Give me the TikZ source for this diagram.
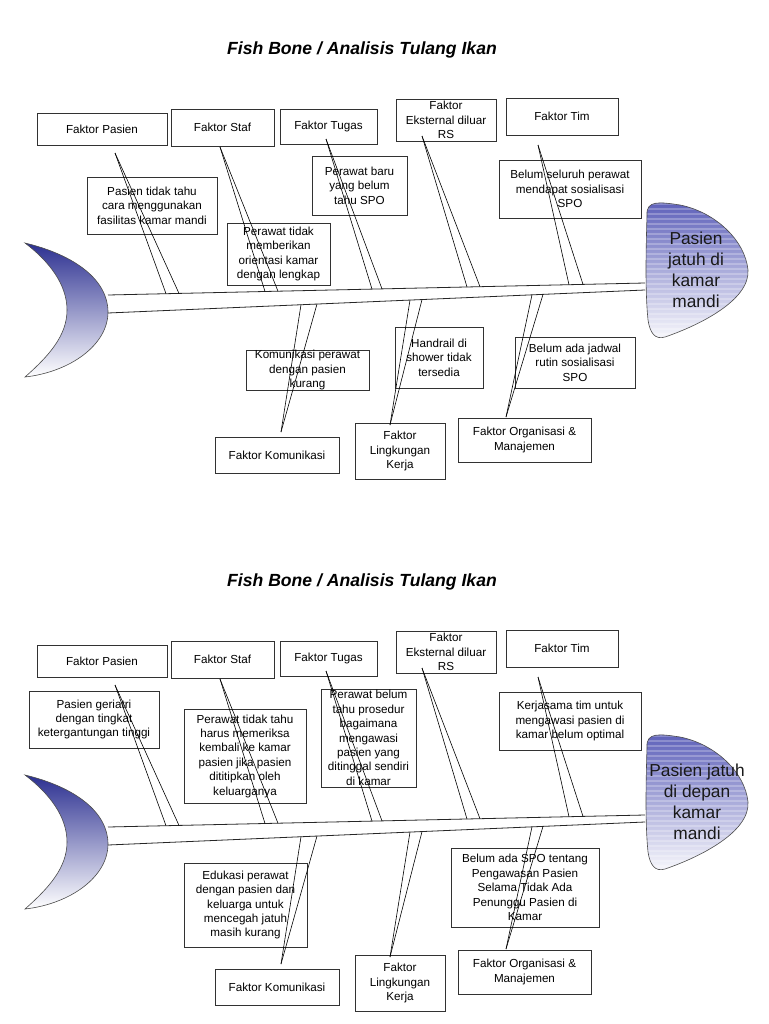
\documentclass[tikz,border=0pt]{standalone}
\usepackage{fontspec}
\setmainfont{Liberation Sans}
\definecolor{tailblue}{RGB}{44,48,145}
\definecolor{headblue}{RGB}{92,95,185}
\definecolor{boxline}{RGB}{50,50,50}
\tikzset{
  box/.style={draw=boxline,line width=0.75pt,fill=white,inner sep=0pt,align=center,
    font=\fontsize{8.75}{10.8}\selectfont},
  bone/.style={line width=0.45pt,black},
  spineline/.style={line width=0.6pt,black!85},
  outline/.style={draw=black!70,line width=0.45pt},
  headtxt/.style={font=\fontsize{13}{15.8}\selectfont,align=center,text=black!90},
  titletxt/.style={font=\fontsize{13.2}{16}\selectfont\bfseries\itshape}
}
\newcommand\bx[6]{%
  \pgfmathsetmacro\bxw{(#4-#2)*0.75}%
  \pgfmathsetmacro\bxh{(#5-#3)*0.75}%
  \node[box,minimum width=\bxw pt,minimum height=\bxh pt] (#1) at ({(#2+#4)/2},{(#3+#5)/2}) {#6};}
\newcommand\headpath{(647,215) .. controls (646,200) and (660,202) .. (680,205)
  .. controls (715,212) and (745,240) .. (748,270)
  .. controls (750,300) and (700,325) .. (665,337)
  .. controls (655,340) and (650,333) .. (648,320)
  .. controls (645,290) and (646,250) .. (647,215) -- cycle}
\newcommand\skel{%
  % tail
  \path[top color=tailblue,bottom color=white,outline]
    (25,243) .. controls (75,255) and (108,280) .. (108,312)
    .. controls (108,345) and (70,372) .. (25,377)
    .. controls (50,355) and (67,335) .. (67,310)
    .. controls (67,285) and (50,262) .. (25,243) -- cycle;
  % head
  \path[top color=headblue,bottom color=white!96!headblue] \headpath;
  \begin{scope}
    \clip \headpath;
    \foreach \yy in {204,209,...,340} \draw[white,opacity=0.25,line width=0.9pt] (640,\yy) -- (755,\yy);
  \end{scope}
  \path[outline] \headpath;
  % spine
  \coordinate (spTL) at (108,295);
  \coordinate (spTR) at (645,283);
  \coordinate (spBL) at (108,313);
  \coordinate (spBR) at (645,290);
  \draw[spineline] (spTL) -- (spTR);
  \draw[spineline] (spBL) -- (spBR);
  % category boxes
  \bx{fpas}{37}{113}{167}{145}{Faktor Pasien}
  \bx{fstaf}{171}{109}{274}{146}{Faktor Staf}
  \bx{ftug}{280}{109}{377}{144}{Faktor Tugas}
  \bx{feks}{396}{99}{496}{141}{Faktor\\Eksternal diluar\\RS}
  \bx{ftim}{506}{98}{618}{135}{Faktor Tim}
  \bx{fkom}{215}{437}{339}{473}{Faktor Komunikasi}
  \bx{fling}{355}{423}{445}{479}{Faktor\\Lingkungan\\Kerja}
  \bx{forg}{458}{418}{591}{462}{Faktor Organisasi \&\\Manajemen}
  % bone coordinates
  \coordinate (bp) at (115,153);  \coordinate (bp1) at (166,293.7); \coordinate (bp2) at (179,293.4);
  \coordinate (bs) at (220,147);  \coordinate (bs1) at (265,291.5); \coordinate (bs2) at (278,291.2);
  \coordinate (bt) at (326,139);  \coordinate (bt1) at (372,289.1); \coordinate (bt2) at (382,288.9);
  \coordinate (be) at (422,136);  \coordinate (be1) at (467,287.0); \coordinate (be2) at (480,286.7);
  \coordinate (bm) at (538,145);  \coordinate (bm1) at (569,284.7); \coordinate (bm2) at (583,284.4);
  \coordinate (bk) at (281,432);  \coordinate (bk1) at (301,304.7); \coordinate (bk2) at (317,304.0);
  \coordinate (bl) at (390,425);  \coordinate (bl1) at (410,300.1); \coordinate (bl2) at (422,299.6);
  \coordinate (bo) at (506,417);  \coordinate (bo1) at (532,294.8); \coordinate (bo2) at (543,294.4);
  \foreach \b in {bp,bs,bt,be,bm,bk,bl,bo}{
    \draw[bone] (\b) -- (\b1);
    \draw[bone] (\b) -- (\b2);
  }
}
\begin{document}
\begin{tikzpicture}[x=0.75pt,y=-0.75pt]
\useasboundingbox (0,0) rectangle (768,1024);
\fill[white] (0,0) rectangle (768,1024);
% ---------- top diagram ----------
\begin{scope}
  \node[titletxt] (title) at (362,50) {Fish Bone / Analisis Tulang Ikan};
  \bx{c1}{87}{177}{217}{234}{Pasien tidak tahu\\cara menggunakan\\fasilitas kamar mandi}
  \bx{c2}{227}{223}{330}{285}{Perawat tidak\\memberikan\\orientasi kamar\\dengan lengkap}
  \bx{c3}{312}{156}{407}{215}{Perawat baru\\yang belum\\tahu SPO}
  \bx{c4}{499}{160}{641}{218}{Belum seluruh perawat\\mendapat sosialisasi\\SPO}
  \bx{c5}{246}{350}{369}{390}{Komunikasi perawat\\dengan pasien\\kurang}
  \bx{c6}{395}{327}{483}{388}{Handrail di\\shower tidak\\tersedia}
  \bx{c7}{515}{337}{635}{388}{Belum ada jadwal\\rutin sosialisasi\\SPO}
  \skel
  \node[headtxt] (headtext) at (696,270) {Pasien\\jatuh di\\kamar\\mandi};
\end{scope}
% ---------- bottom diagram ----------
\begin{scope}[shift={(0,532)},name prefix=b-]
  \node[titletxt] (title) at (362,50) {Fish Bone / Analisis Tulang Ikan};
  \bx{c1}{29}{159}{159}{216}{Pasien geriatri\\dengan tingkat\\ketergantungan tinggi}
  \bx{c2}{184}{177}{306}{271}{Perawat tidak tahu\\harus memeriksa\\kembali ke kamar\\pasien jika pasien\\dititipkan oleh\\keluarganya}
  \bx{c3}{321}{157}{416}{255}{Perawat belum\\tahu prosedur\\bagaimana\\mengawasi\\pasien yang\\ditinggal sendiri\\di kamar}
  \bx{c4}{499}{160}{641}{218}{Kerjasama tim untuk\\mengawasi pasien di\\kamar belum optimal}
  \bx{c5}{184}{331}{307}{415}{Edukasi perawat\\dengan pasien dan\\keluarga untuk\\mencegah jatuh\\masih kurang}
  \bx{c6}{451}{316}{599}{395}{Belum ada SPO tentang\\Pengawasan Pasien\\Selama Tidak Ada\\Penunggu Pasien di\\Kamar}
  \skel
  \node[headtxt] (headtext) at (697,270) {Pasien jatuh\\di depan\\kamar\\mandi};
\end{scope}
\end{tikzpicture}
\end{document}
